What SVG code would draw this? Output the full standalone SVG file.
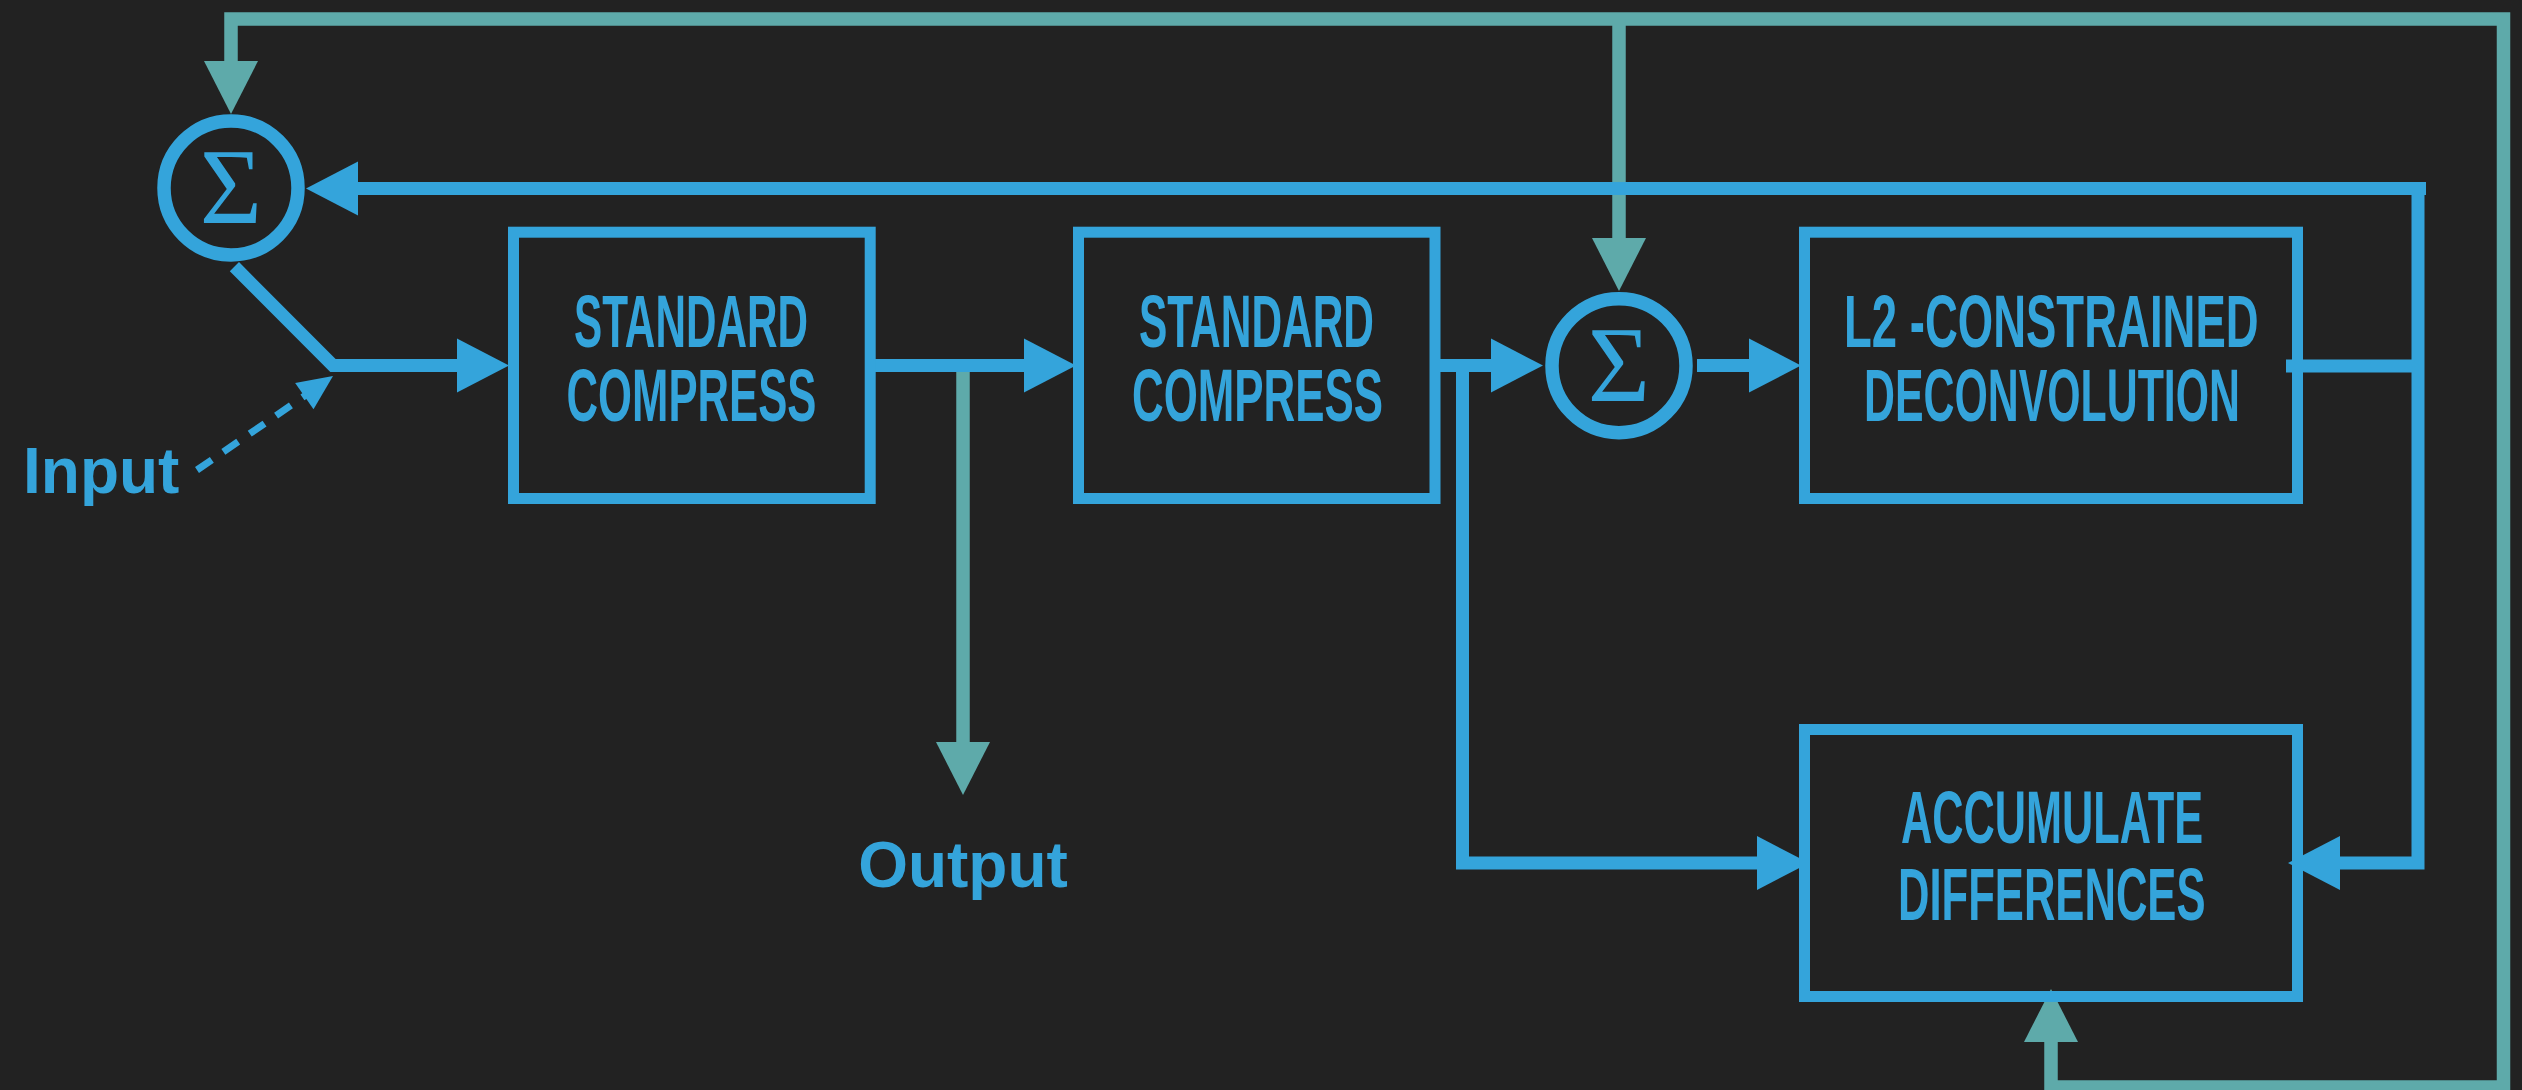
<svg xmlns="http://www.w3.org/2000/svg" xmlns:xlink="http://www.w3.org/1999/xlink" width="2522" height="1090" viewBox="0 0 2522 1090">
  <style>
    .bg { fill: #222222; }
    .box { fill: none; stroke: #34a4db; stroke-width: 11; }
    .sum { fill: none; stroke: #34a4db; stroke-width: 13.5; }
    .sigma { font-family: "Liberation Serif", "Times New Roman", serif; font-size: 107px; fill: #34a4db; text-anchor: middle; }
    .label { font-family: "Liberation Sans", Arial, sans-serif; font-weight: bold; font-size: 75px; fill: #34a4db; }
    .io { font-family: "Liberation Sans", Arial, sans-serif; font-weight: bold; font-size: 64px; fill: #34a4db; }
    .wire { fill: none; stroke: #34a4db; stroke-width: 13; stroke-linejoin: miter; stroke-linecap: butt; }
    .wire-t { fill: none; stroke: #5eaaaa; stroke-width: 13.5; stroke-linejoin: miter; stroke-linecap: butt; }
    .dash { fill: none; stroke: #34a4db; stroke-width: 7; stroke-dasharray: 18 14; }
  </style>
  <defs>
    <!-- arrowheads point right with the tip at the origin -->
    <path id="head-blue" d="M0 0 L-52 -27 L-52 27 Z" fill="#34a4db"/>
    <path id="head-teal" d="M0 0 L-53 -27 L-53 27 Z" fill="#5eaaaa"/>
    <path id="head-small" d="M0 0 L-35 -16 L-35 16 Z" fill="#34a4db"/>
  </defs>

  <rect class="bg" x="0" y="0" width="2522" height="1090"/>

  <g id="connectors">
    <!-- outer teal loop: top rail, right rail, bottom rail -->
    <polyline class="wire-t" points="231,62 231,19 2503.5,19 2503.5,1087 2051,1087 2051,1042"/>
    <line class="wire-t" x1="1619" y1="19" x2="1619" y2="239"/>
    <line class="wire-t" x1="963" y1="372" x2="963" y2="743"/>
    <use xlink:href="#head-teal" transform="translate(231,114) rotate(90)"/>
    <use xlink:href="#head-teal" transform="translate(1619,291) rotate(90)"/>
    <use xlink:href="#head-teal" transform="translate(963,795) rotate(90)"/>
    <use xlink:href="#head-teal" transform="translate(2051,989) rotate(-90)"/>

    <!-- forward path -->
    <polyline class="wire" points="234.4,266.7 333,365.5 459,365.5"/>
    <use xlink:href="#head-blue" transform="translate(509,365.5)"/>
    <line class="wire" x1="875" y1="365.5" x2="1026" y2="365.5"/>
    <use xlink:href="#head-blue" transform="translate(1076,365.5)"/>
    <line class="wire" x1="1440" y1="365.5" x2="1493" y2="365.5"/>
    <use xlink:href="#head-blue" transform="translate(1543,365.5)"/>
    <line class="wire" x1="1697" y1="365.5" x2="1751" y2="365.5"/>
    <use xlink:href="#head-blue" transform="translate(1801,365.5)"/>

    <!-- branch from second compressor down to the accumulator -->
    <polyline class="wire" points="1462.5,372 1462.5,863 1759,863"/>
    <use xlink:href="#head-blue" transform="translate(1809,863)"/>

    <!-- deconvolution output and feedback rail -->
    <line class="wire" x1="2286" y1="366" x2="2418" y2="366"/>
    <line class="wire" x1="355" y1="188.5" x2="2426" y2="188.5"/>
    <polyline class="wire" points="2418,195 2418,863 2338,863"/>
    <use xlink:href="#head-blue" transform="translate(306,188.5) rotate(180)"/>
    <use xlink:href="#head-blue" transform="translate(2288,863) rotate(180)"/>

    <!-- dashed input feed -->
    <line class="dash" x1="197" y1="470" x2="306" y2="395"/>
    <use xlink:href="#head-small" transform="translate(333,376) rotate(-35)"/>
  </g>

  <g id="sum-1">
    <circle class="sum" cx="231" cy="188" r="67"/>
    <text class="sigma" x="231" y="223">Σ</text>
  </g>

  <g id="sum-2">
    <circle class="sum" cx="1619" cy="365.7" r="67"/>
    <text class="sigma" x="1619" y="401">Σ</text>
  </g>

  <g id="compress-1">
    <rect class="box" x="513.5" y="232.2" width="356.7" height="266.3"/>
    <text class="label"><tspan x="574" y="346.5" textLength="234" lengthAdjust="spacingAndGlyphs">STANDARD</tspan><tspan x="566.5" y="420.7" textLength="250" lengthAdjust="spacingAndGlyphs">COMPRESS</tspan></text>
  </g>

  <g id="compress-2">
    <rect class="box" x="1078.5" y="232.2" width="356.5" height="266.3"/>
    <text class="label"><tspan x="1139" y="346.5" textLength="235" lengthAdjust="spacingAndGlyphs">STANDARD</tspan><tspan x="1132" y="420.7" textLength="251" lengthAdjust="spacingAndGlyphs">COMPRESS</tspan></text>
  </g>

  <g id="deconvolution">
    <rect class="box" x="1804.5" y="232.2" width="493" height="266.3"/>
    <text class="label"><tspan x="1844" y="346.5" textLength="414.6" lengthAdjust="spacingAndGlyphs">L2 -CONSTRAINED</tspan><tspan x="1864" y="420.7" textLength="376" lengthAdjust="spacingAndGlyphs">DECONVOLUTION</tspan></text>
  </g>

  <g id="accumulate">
    <rect class="box" x="1804.5" y="729.5" width="493" height="267"/>
    <text class="label"><tspan x="1901" y="842.5" textLength="302" lengthAdjust="spacingAndGlyphs">ACCUMULATE</tspan><tspan x="1898" y="920" textLength="307.5" lengthAdjust="spacingAndGlyphs">DIFFERENCES</tspan></text>
  </g>

  <g id="input-label">
    <text class="io" x="23" y="493">Input</text>
  </g>

  <g id="output-label">
    <text class="io" x="963" y="887" text-anchor="middle">Output</text>
  </g>
</svg>
